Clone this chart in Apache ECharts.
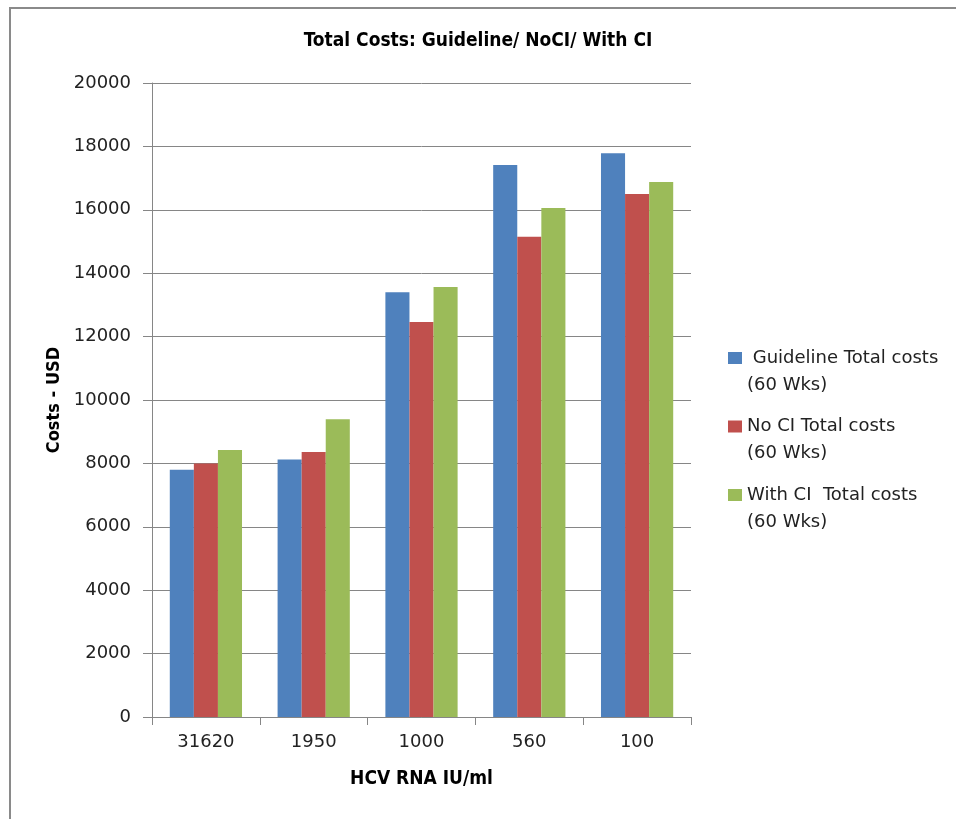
<!DOCTYPE html>
<html>
<head>
<meta charset="utf-8">
<script src="https://cdn.jsdelivr.net/npm/echarts@6/dist/echarts.min.js"></script>
<style>
html,body{margin:0;padding:0;background:#fff;}
#chart{width:956px;height:819px;}
</style>
</head>
<body>
<div id="chart"></div>
<script>
const categories = ['31620', '1950', '1000', '560', '100'];
const seriesNames = [' Guideline Total costs\n(60 Wks)', 'No CI Total costs\n(60 Wks)', 'With CI  Total costs\n(60 Wks)'];
const guidelineCosts = [7800, 8120, 13400, 17410, 17780];
const noCiCosts = [8000, 8360, 12460, 15150, 16500];
const withCiCosts = [8420, 9390, 13565, 16060, 16880];
const yTicks = [0, 2000, 4000, 6000, 8000, 10000, 12000, 14000, 16000, 18000, 20000];

const colors = ['#4F81BD', '#C0504D', '#9BBB59'];
const gray = '#868686';
const font = 'DejaVu Sans';
const boldFont = 'DejaVu Sans Condensed';

const chart = echarts.init(document.getElementById('chart'), null, {renderer: 'canvas'});
chart.setOption({
  animation: false,
  backgroundColor: '#ffffff',
  color: colors,
  graphic: [{
    type: 'rect',
    shape: {x: 10, y: 8, width: 1200, height: 1200},
    style: {fill: 'none', stroke: '#8a8a8a', lineWidth: 2},
    silent: true
  }],
  title: {
    text: 'Total Costs: Guideline/ NoCI/ With CI',
    left: 'center',
    top: 32,
    padding: 0,
    textStyle: {fontFamily: boldFont, fontWeight: 'bold', fontSize: 19, color: '#000'}
  },
  legend: {
    orient: 'vertical',
    left: 728,
    top: 317.5,
    padding: 0,
    itemWidth: 14,
    itemHeight: 12,
    itemGap: -12.5,
    icon: 'rect',
    data: seriesNames,
    formatter: function (name) { return '\n' + name; },
    textStyle: {fontFamily: font, fontSize: 18, color: '#222', lineHeight: 27}
  },
  grid: {left: 152, right: 265, top: 83, bottom: 102, containLabel: false},
  xAxis: {
    type: 'category',
    data: categories,
    name: 'HCV RNA IU/ml',
    nameLocation: 'middle',
    nameGap: 53,
    nameTextStyle: {fontFamily: boldFont, fontWeight: 'bold', fontSize: 19, color: '#000'},
    axisLine: {show: true, lineStyle: {color: gray, width: 1}},
    axisTick: {show: true, length: 8, lineStyle: {color: gray}},
    axisLabel: {fontFamily: font, fontSize: 18, color: '#222', margin: 16}
  },
  yAxis: {
    type: 'value',
    min: 0,
    max: 20000,
    interval: 2000,
    name: 'Costs - USD',
    nameLocation: 'middle',
    nameGap: 88,
    nameTextStyle: {fontFamily: boldFont, fontWeight: 'bold', fontSize: 18, color: '#000'},
    axisLine: {show: true, lineStyle: {color: gray, width: 1}},
    axisTick: {show: true, length: 9, lineStyle: {color: gray}},
    splitLine: {show: true, lineStyle: {color: gray, width: 1}},
    axisLabel: {
      fontFamily: font, fontSize: 18, color: '#222', margin: 21,
      formatter: function (v) { return yTicks.indexOf(v) >= 0 ? String(v) : ''; }
    }
  },
  series: [
    {name: seriesNames[0], type: 'bar', data: guidelineCosts, barGap: '0%', barCategoryGap: '33%'},
    {name: seriesNames[1], type: 'bar', data: noCiCosts, barGap: '0%', barCategoryGap: '33%'},
    {name: seriesNames[2], type: 'bar', data: withCiCosts, barGap: '0%', barCategoryGap: '33%'}
  ]
});
</script>
</body>
</html>
